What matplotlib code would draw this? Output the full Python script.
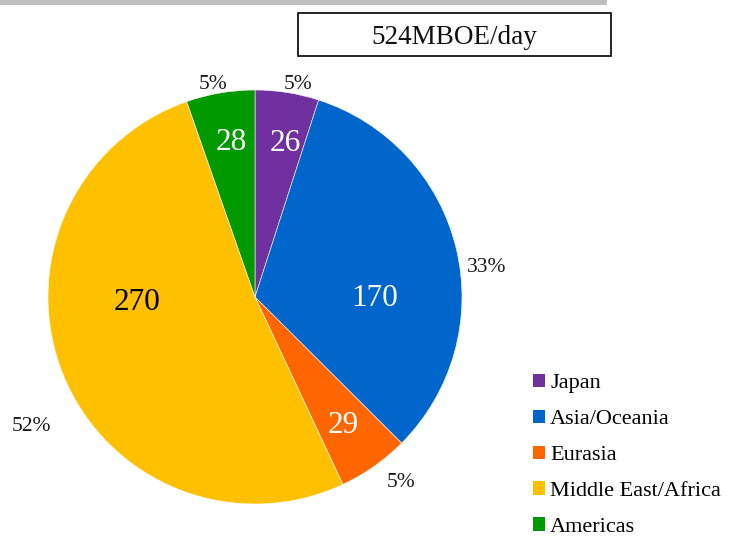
import numpy as np
import matplotlib
matplotlib.use("Agg")
import matplotlib.pyplot as plt
from matplotlib.patches import Rectangle
from matplotlib.transforms import offset_copy

regions = ["Japan", "Asia/Oceania", "Eurasia", "Middle East/Africa", "Americas"]
values = [26, 170, 29, 270, 28]
pct_labels = ["5%", "33%", "5%", "52%", "5%"]
title_text = "524MBOE/day"

colors = ["#7030A0", "#0066CC", "#FF6600", "#FFC000", "#009900"]
value_colors = ["white", "white", "white", "black", "white"]
value_dist = [0.77, 0.58, 0.74, 0.57, 0.77]
pct_dist = [1.06, 1.13, 1.13, 1.24, 1.06]
pct_angle_shift = [-2.3, -5.5, 3.5, 7.3, 1.4]
value_angle_shift = [-2, -13, 0, -21, -1]

plt.rcParams['font.family'] = ['Liberation Serif', 'DejaVu Serif']

W, H = 732, 551
fig = plt.figure(figsize=(W / 100, H / 100), dpi=100)

cx, cy, r = 255, 297, 207
ax = fig.add_axes([(cx - r) / W, (H - cy - r) / H, 2 * r / W, 2 * r / H])
wedges, _ = ax.pie(values, colors=colors, startangle=90, counterclock=False,
                   radius=1, wedgeprops=dict(edgecolor="white", linewidth=0.4))
ax.set_xlim(-1, 1)
ax.set_ylim(-1, 1)
ax.set_aspect("equal")
ax.axis("off")

tdown = offset_copy(ax.transData, fig=fig, x=0, y=-3, units="dots")
for i, w in enumerate(wedges):
    mid = np.deg2rad((w.theta1 + w.theta2) / 2)
    a = mid + np.deg2rad(value_angle_shift[i])
    ax.text(value_dist[i] * np.cos(a), value_dist[i] * np.sin(a), str(values[i]),
            ha="center", va="center", fontsize=22.5, color=value_colors[i],
            transform=tdown)
    b = mid + np.deg2rad(pct_angle_shift[i])
    ax.text(pct_dist[i] * np.cos(b), pct_dist[i] * np.sin(b), pct_labels[i],
            ha="center", va="center", fontsize=15.5, color="#1a1a1a",
            transform=tdown)

# gray bar at top
fig.patches.append(Rectangle((0, 1 - 5 / H), 607 / W, 5 / H, transform=fig.transFigure,
                             facecolor="#BFBFBF", edgecolor="none"))
# title box
bx0, bx1, by0, by1 = 298, 611, 13, 56
fig.patches.append(Rectangle((bx0 / W, 1 - by1 / H), (bx1 - bx0) / W, (by1 - by0) / H,
                             transform=fig.transFigure, facecolor="white",
                             edgecolor="black", linewidth=1.2))
fig.text((bx0 + bx1) / 2 / W, 1 - ((by0 + by1) / 2 + 3) / H, title_text,
         ha="center", va="center", fontsize=19.5, color="#111111")

leg = fig.legend(wedges, regions, loc="upper left",
                 bbox_to_anchor=(533 / W, 1 - 374 / H), frameon=False,
                 fontsize=16, handlelength=0.54, handleheight=0.54,
                 handletextpad=0.23, labelspacing=0.735, borderaxespad=0,
                 borderpad=0)
for h in leg.legend_handles:
    h.set_edgecolor("none")

fig.savefig("out.png", dpi=100, facecolor="white")
